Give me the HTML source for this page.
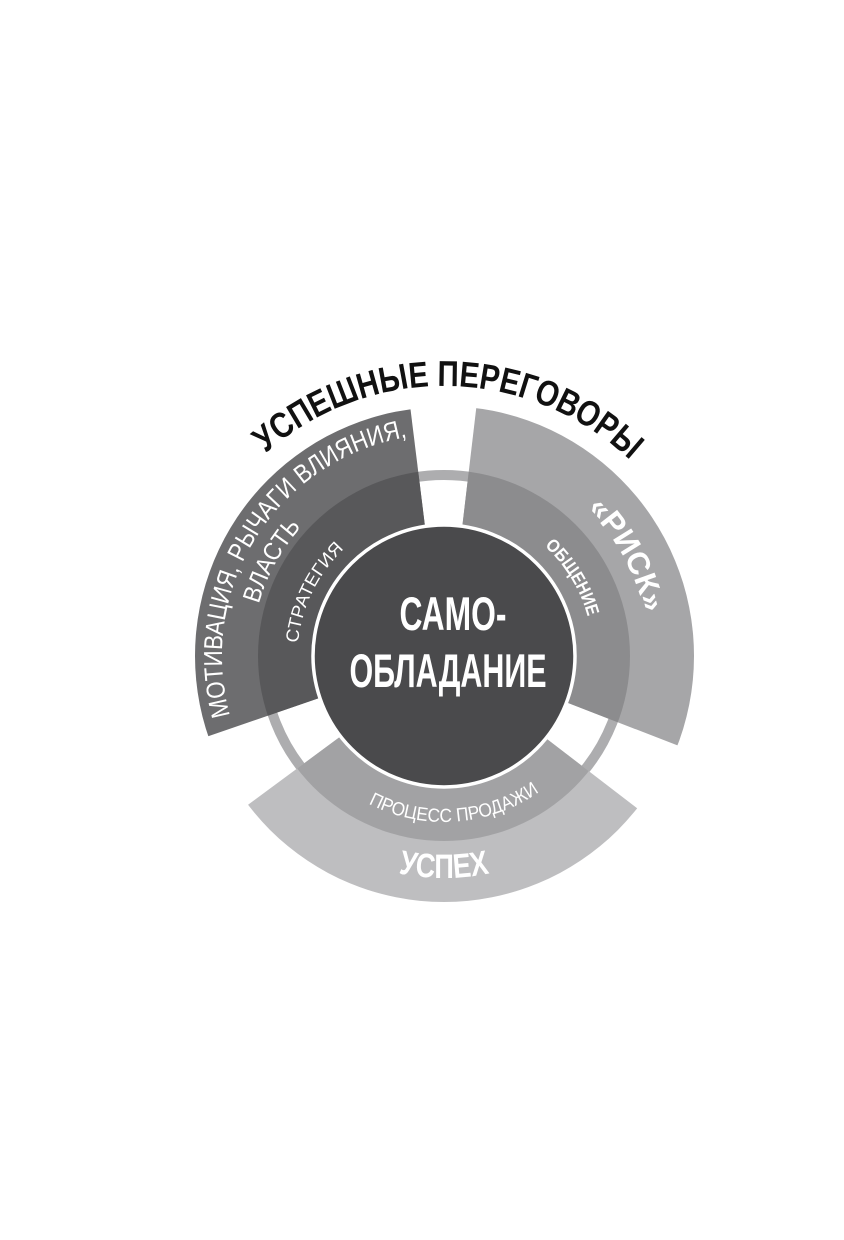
<!DOCTYPE html>
<html><head><meta charset="utf-8"><style>
html,body{margin:0;padding:0;background:#fff;}
svg{display:block;}
text{font-family:"Liberation Sans Narrow","Liberation Sans",sans-serif;font-weight:bold;}
</style></head><body>
<svg width="844" height="1240" viewBox="0 0 844 1240" xmlns="http://www.w3.org/2000/svg">
<defs>
<clipPath id="wl"><polygon points="397,300 441,656 0,808 0,300"/></clipPath>
<clipPath id="wr"><polygon points="489,300 844,300 844,810 447,656"/></clipPath>
<clipPath id="wb"><polygon points="444,660 844,967 844,1100 0,1100 0,988"/></clipPath>
<path id="pt" d="M174,656 A270,270 0 0 1 714,656"/>
<path id="p1" d="M316.7,837.9 A222,222 0 0 1 571.3,474.1"/>
<path id="p2" d="M346,825.7 A196,196 0 0 1 542,486.3"/>
<path id="p3" d="M373.6,788.4 A150,150 0 0 1 514.4,523.6"/>
<path id="p4" d="M350.9,473.3 A205,205 0 0 1 537.1,838.7"/>
<path id="p5" d="M369,526.1 A150,150 0 0 1 519,785.9"/>
<path id="p6" d="M278,656 A166,166 0 0 0 610,656"/>
<path id="p7" d="M222,656 A222,222 0 0 0 666,656"/>
</defs>
<circle cx="444" cy="656" r="181" fill="none" stroke="#adadaf" stroke-width="10"/>
<g clip-path="url(#wl)">
<circle cx="444" cy="656" r="249" fill="#6d6d6f"/>
<circle cx="444" cy="656" r="186" fill="#58585a"/>
</g>
<g clip-path="url(#wr)">
<circle cx="444" cy="656" r="250" fill="#a6a6a8"/>
<circle cx="444" cy="656" r="186" fill="#8c8c8e"/>
</g>
<g clip-path="url(#wb)">
<circle cx="444" cy="656" r="246" fill="#bebec0"/>
<circle cx="444" cy="656" r="185" fill="#a2a2a4"/>
</g>
<circle cx="444" cy="656" r="131" fill="#4a4a4c" stroke="#fff" stroke-width="3.5"/>
<text font-size="36" fill="#111"><textPath href="#pt" startOffset="50.6%" text-anchor="middle" textLength="400" lengthAdjust="spacingAndGlyphs">УСПЕШНЫЕ ПЕРЕГОВОРЫ</textPath></text>
<text font-size="26" fill="#fff" style="font-weight:normal"><textPath href="#p1" startOffset="48.6%" text-anchor="middle" textLength="372" lengthAdjust="spacingAndGlyphs">МОТИВАЦИЯ, РЫЧАГИ ВЛИЯНИЯ,</textPath></text>
<text font-size="25" fill="#fff" style="font-weight:normal"><textPath href="#p2" startOffset="49.4%" text-anchor="middle" textLength="89" lengthAdjust="spacingAndGlyphs">ВЛАСТЬ</textPath></text>
<text font-size="18" fill="#fff" style="font-weight:normal"><textPath href="#p3" startOffset="48.9%" text-anchor="middle" textLength="107" lengthAdjust="spacingAndGlyphs">СТРАТЕГИЯ</textPath></text>
<text font-size="31" fill="#fff"><textPath href="#p4" startOffset="48.9%" text-anchor="middle" textLength="121" lengthAdjust="spacingAndGlyphs">«РИСК»</textPath></text>
<text font-size="18" fill="#fff"><textPath href="#p5" startOffset="49.2%" text-anchor="middle" textLength="84" lengthAdjust="spacingAndGlyphs">ОБЩЕНИЕ</textPath></text>
<text font-size="19" fill="#fff" style="font-weight:normal"><textPath href="#p6" startOffset="52.2%" text-anchor="middle" textLength="180" lengthAdjust="spacingAndGlyphs">ПРОЦЕСС ПРОДАЖИ</textPath></text>
<text font-size="34" fill="#fff"><textPath href="#p7" startOffset="50%" text-anchor="middle" textLength="92" lengthAdjust="spacingAndGlyphs">УСПЕХ</textPath></text>
<text x="453" y="630" font-size="47" fill="#fff" text-anchor="middle" textLength="107" lengthAdjust="spacingAndGlyphs">САМО-</text>
<text x="448" y="687" font-size="47" fill="#fff" text-anchor="middle" textLength="197" lengthAdjust="spacingAndGlyphs">ОБЛАДАНИЕ</text>
</svg>
</body></html>
